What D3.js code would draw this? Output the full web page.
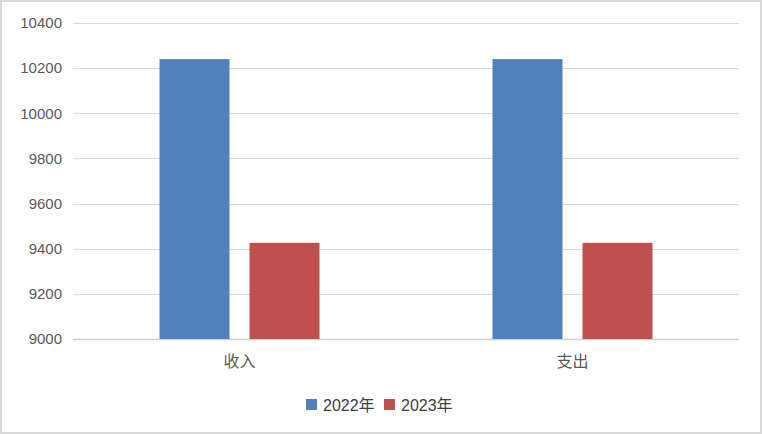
<!DOCTYPE html>
<html>
<head>
<meta charset="utf-8">
<script src="https://cdn.jsdelivr.net/npm/d3@7"></script>
<style>
  body { margin: 0; background: #fff; }
  svg { display: block; font-family: "Liberation Sans", "Noto Sans CJK SC", sans-serif; }
</style>
</head>
<body>
<div id="chart"></div>
<script>
var categories = ['收入', '支出'];
var seriesNames = ['2022年', '2023年'];
var values2022 = [10240, 10240];
var values2023 = [9426, 9426];
var yTicks = [9000, 9200, 9400, 9600, 9800, 10000, 10200, 10400];
var colors = ['#4f81bd', '#c0504d'];

var width = 762, height = 434;
var margin = {top: 23, right: 23, bottom: 95, left: 73};
var W = width - margin.left - margin.right;
var H = height - margin.top - margin.bottom;

var svg = d3.select('#chart').append('svg')
  .attr('width', width).attr('height', height);

svg.append('rect')
  .attr('x', 1).attr('y', 1)
  .attr('width', width - 2).attr('height', height - 2)
  .attr('fill', '#fff')
  .attr('stroke', '#d9d9d9')
  .attr('stroke-width', 2);

var g = svg.append('g')
  .attr('transform', 'translate(' + [margin.left, margin.top] + ')');

var y = d3.scaleLinear().domain([9000, 10400]).range([H, 0]);
var x0 = d3.scaleBand().domain(categories).range([0, W]).paddingInner(0).paddingOuter(0);
var x1 = d3.scaleBand().domain(seriesNames).range([0, 160]).paddingInner(2 / 9).paddingOuter(0);

// gridlines
g.selectAll('.grid').data(yTicks).enter().append('line')
  .attr('class', 'grid')
  .attr('x1', 0).attr('x2', W)
  .attr('y1', function(d){ return Math.round(y(d)) + 0.5; })
  .attr('y2', function(d){ return Math.round(y(d)) + 0.5; })
  .attr('stroke', function(d){ return d === 9000 ? '#d0d0d0' : '#d9d9d9'; })
  .attr('stroke-width', function(d){ return d === 9000 ? 1.5 : 1; });

// y labels
g.selectAll('.ylab').data(yTicks).enter().append('text')
  .attr('class', 'ylab')
  .attr('x', -11)
  .attr('y', function(d){ return y(d); })
  .attr('dy', '0.35em')
  .attr('text-anchor', 'end')
  .attr('font-size', 15)
  .attr('fill', '#595959')
  .text(function(d){ return d; });

var data = categories.map(function(c, i){
  return {cat: c, vals: [
    {name: seriesNames[0], value: values2022[i], color: colors[0]},
    {name: seriesNames[1], value: values2023[i], color: colors[1]}
  ]};
});

var groups = g.selectAll('.grp').data(data).enter().append('g')
  .attr('class', 'grp')
  .attr('transform', function(d){
    return 'translate(' + [x0(d.cat) + (x0.bandwidth() - 160) / 2, 0] + ')';
  });

groups.selectAll('rect').data(function(d){ return d.vals; }).enter().append('rect')
  .attr('x', function(d){ return x1(d.name); })
  .attr('width', x1.bandwidth())
  .attr('y', function(d){ return y(d.value); })
  .attr('height', function(d){ return H - y(d.value); })
  .attr('fill', function(d){ return d.color; });

// category labels
g.selectAll('.xlab').data(categories).enter().append('text')
  .attr('class', 'xlab')
  .attr('x', function(d){ return x0(d) + x0.bandwidth() / 2; })
  .attr('y', H + 28)
  .attr('text-anchor', 'middle')
  .attr('font-size', 16)
  .attr('fill', '#595959')
  .attr('font-family', '"Noto Sans CJK SC", sans-serif')
  .text(function(d){ return d; });

// legend
var legend = svg.append('g').attr('transform', 'translate(306, 405)');
var lx = [0, 78];
seriesNames.forEach(function(s, i){
  var lg = legend.append('g').attr('transform', 'translate(' + [lx[i], 0] + ')');
  lg.append('rect').attr('x', 0).attr('y', -6).attr('width', 11).attr('height', 11)
    .attr('fill', colors[i]);
  lg.append('text').attr('x', 17).attr('y', 0).attr('dy', '0.35em')
    .attr('font-size', 16).attr('fill', '#404040')
    .text(s);
});
</script>
</body>
</html>
